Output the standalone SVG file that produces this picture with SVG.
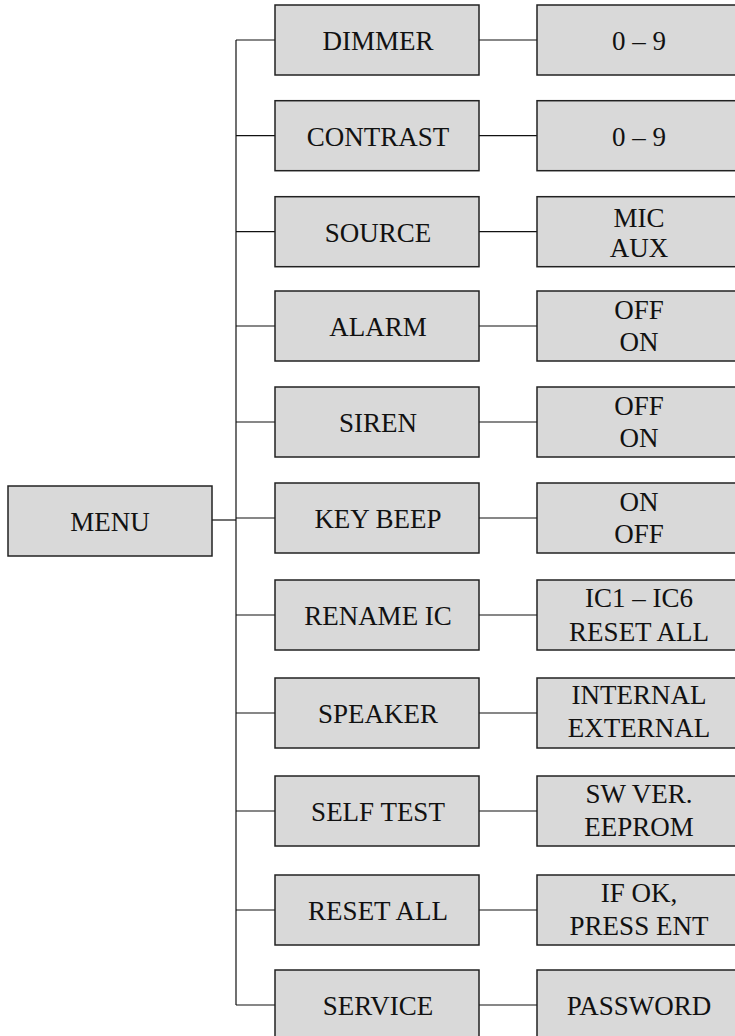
<svg xmlns="http://www.w3.org/2000/svg" width="735" height="1036" viewBox="0 0 735 1036">
<style>
rect{fill:#d9d9d9;stroke:#222;stroke-width:1.5}
text{font-family:"Liberation Serif","Times New Roman",serif;font-size:27px;fill:#111;text-anchor:middle}
.c line{stroke:#111;stroke-width:1.2}
</style>
<rect x="0" y="0" width="735" height="1036" style="fill:#fff;stroke:none"/>
<g class="c" id="connectors">
<line x1="236" y1="40" x2="236" y2="1005"/>
<line x1="212" y1="520" x2="236" y2="520"/>
<line x1="236" y1="40" x2="275" y2="40"/><line x1="479" y1="40" x2="537" y2="40"/>
<line x1="236" y1="135.7" x2="275" y2="135.7"/><line x1="479" y1="135.7" x2="537" y2="135.7"/>
<line x1="236" y1="231.7" x2="275" y2="231.7"/><line x1="479" y1="231.7" x2="537" y2="231.7"/>
<line x1="236" y1="326" x2="275" y2="326"/><line x1="479" y1="326" x2="537" y2="326"/>
<line x1="236" y1="422" x2="275" y2="422"/><line x1="479" y1="422" x2="537" y2="422"/>
<line x1="236" y1="518" x2="275" y2="518"/><line x1="479" y1="518" x2="537" y2="518"/>
<line x1="236" y1="615" x2="275" y2="615"/><line x1="479" y1="615" x2="537" y2="615"/>
<line x1="236" y1="713" x2="275" y2="713"/><line x1="479" y1="713" x2="537" y2="713"/>
<line x1="236" y1="811" x2="275" y2="811"/><line x1="479" y1="811" x2="537" y2="811"/>
<line x1="236" y1="910" x2="275" y2="910"/><line x1="479" y1="910" x2="537" y2="910"/>
<line x1="236" y1="1005" x2="275" y2="1005"/><line x1="479" y1="1005" x2="537" y2="1005"/>
</g>
<g id="menu"><rect x="8" y="486" width="204" height="70"/><text x="110" y="531">MENU</text></g>
<g id="dimmer"><rect x="275" y="5" width="204" height="70"/><text x="378" y="50">DIMMER</text></g>
<g id="dimmer-val"><rect x="537" y="5" width="204" height="70"/><text x="639" y="50">0 – 9</text></g>
<g id="contrast"><rect x="275" y="100.7" width="204" height="70"/><text x="378" y="145.7">CONTRAST</text></g>
<g id="contrast-val"><rect x="537" y="100.7" width="204" height="70"/><text x="639" y="145.7">0 – 9</text></g>
<g id="source"><rect x="275" y="196.7" width="204" height="70"/><text x="378" y="241.7">SOURCE</text></g>
<g id="source-val"><rect x="537" y="196.7" width="204" height="70"/><text x="639" y="226.7">MIC</text><text x="639" y="256.7">AUX</text></g>
<g id="alarm"><rect x="275" y="291" width="204" height="70"/><text x="378" y="336">ALARM</text></g>
<g id="alarm-val"><rect x="537" y="291" width="204" height="70"/><text x="639" y="319">OFF</text><text x="639" y="351">ON</text></g>
<g id="siren"><rect x="275" y="387" width="204" height="70"/><text x="378" y="432">SIREN</text></g>
<g id="siren-val"><rect x="537" y="387" width="204" height="70"/><text x="639" y="415">OFF</text><text x="639" y="447">ON</text></g>
<g id="keybeep"><rect x="275" y="483" width="204" height="70"/><text x="378" y="528">KEY BEEP</text></g>
<g id="keybeep-val"><rect x="537" y="483" width="204" height="70"/><text x="639" y="511">ON</text><text x="639" y="543">OFF</text></g>
<g id="renameic"><rect x="275" y="580" width="204" height="70"/><text x="378" y="625">RENAME IC</text></g>
<g id="renameic-val"><rect x="537" y="580" width="204" height="70"/><text x="639" y="607">IC1 – IC6</text><text x="639" y="641">RESET ALL</text></g>
<g id="speaker"><rect x="275" y="678" width="204" height="70"/><text x="378" y="723">SPEAKER</text></g>
<g id="speaker-val"><rect x="537" y="678" width="204" height="70"/><text x="639" y="704">INTERNAL</text><text x="639" y="737">EXTERNAL</text></g>
<g id="selftest"><rect x="275" y="776" width="204" height="70"/><text x="378" y="821">SELF TEST</text></g>
<g id="selftest-val"><rect x="537" y="776" width="204" height="70"/><text x="639" y="803">SW VER.</text><text x="639" y="836">EEPROM</text></g>
<g id="resetall"><rect x="275" y="875" width="204" height="70"/><text x="378" y="920">RESET ALL</text></g>
<g id="resetall-val"><rect x="537" y="875" width="204" height="70"/><text x="639" y="902">IF OK,</text><text x="639" y="935">PRESS ENT</text></g>
<g id="service"><rect x="275" y="970" width="204" height="70"/><text x="378" y="1015">SERVICE</text></g>
<g id="service-val"><rect x="537" y="970" width="204" height="70"/><text x="639" y="1015">PASSWORD</text></g>
</svg>
